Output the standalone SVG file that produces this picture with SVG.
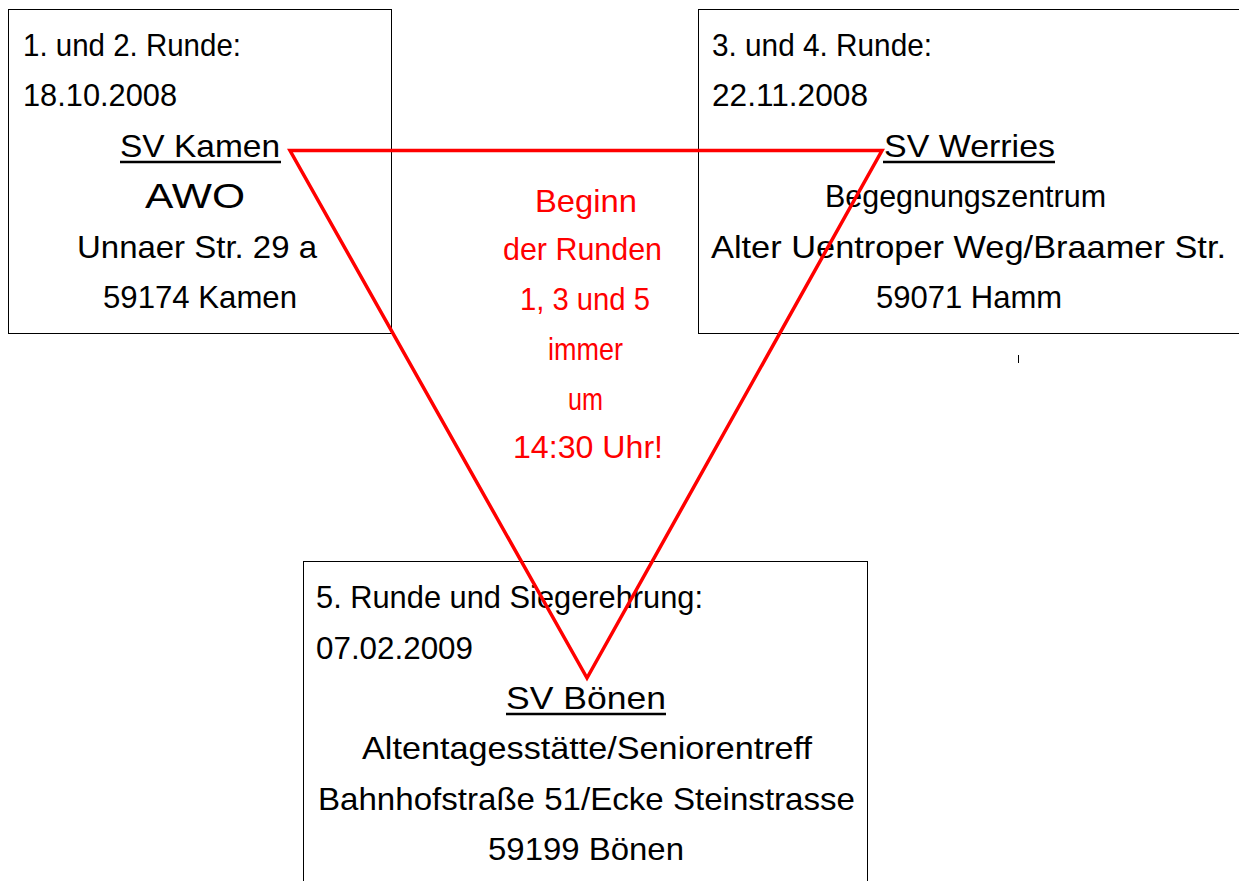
<svg xmlns="http://www.w3.org/2000/svg" width="1239" height="881" viewBox="0 0 1239 881">
  <style>
    .box { fill: #ffffff; stroke: #000000; stroke-width: 1; }
    .t { font-family: "Liberation Sans", Arial, sans-serif; font-size: 32px; fill: #000000; }
    .big { font-size: 35px; }
    .red { font-family: "Liberation Sans", Arial, sans-serif; font-size: 32px; fill: #ff0000; text-anchor: middle; }
    .ul { stroke: #000000; stroke-width: 2.5; }
    .tri { fill: none; stroke: #ff0000; stroke-width: 3.5; stroke-linejoin: miter; }
  </style>
  <rect x="0" y="0" width="1239" height="881" fill="#ffffff"/>

  <g id="node-kamen">
    <rect class="box" x="8.5" y="9.5" width="383" height="324"/>
    <text class="t" x="23" y="56" textLength="218" lengthAdjust="spacingAndGlyphs">1. und 2. Runde:</text>
    <text class="t" x="23" y="106" textLength="154" lengthAdjust="spacingAndGlyphs">18.10.2008</text>
    <text class="t" x="120" y="157" textLength="160" lengthAdjust="spacingAndGlyphs">SV Kamen</text>
    <line class="ul" x1="120" y1="162" x2="281" y2="162"/>
    <text class="t big" x="145" y="208" textLength="100" lengthAdjust="spacingAndGlyphs">AWO</text>
    <text class="t" x="77" y="258" textLength="240" lengthAdjust="spacingAndGlyphs">Unnaer Str. 29 a</text>
    <text class="t" x="103" y="308" textLength="194" lengthAdjust="spacingAndGlyphs">59174 Kamen</text>
  </g>

  <g id="node-werries">
    <rect class="box" x="698.5" y="9.5" width="600" height="324"/>
    <text class="t" x="712" y="56" textLength="220" lengthAdjust="spacingAndGlyphs">3. und 4. Runde:</text>
    <text class="t" x="712" y="106" textLength="156" lengthAdjust="spacingAndGlyphs">22.11.2008</text>
    <text class="t" x="884" y="157" textLength="171" lengthAdjust="spacingAndGlyphs">SV Werries</text>
    <line class="ul" x1="883" y1="162" x2="1055" y2="162"/>
    <text class="t" x="825" y="207" textLength="281" lengthAdjust="spacingAndGlyphs">Begegnungszentrum</text>
    <text class="t" x="711" y="258" textLength="515" lengthAdjust="spacingAndGlyphs">Alter Uentroper Weg/Braamer Str.</text>
    <text class="t" x="876" y="308" textLength="186" lengthAdjust="spacingAndGlyphs">59071 Hamm</text>
  </g>

  <line x1="1018.5" y1="355" x2="1018.5" y2="363" stroke="#000000" stroke-width="1"/>

  <g id="node-boenen">
    <rect class="box" x="303.5" y="561.5" width="564" height="400"/>
    <text class="t" x="316" y="608" textLength="387" lengthAdjust="spacingAndGlyphs">5. Runde und Siegerehrung:</text>
    <text class="t" x="316" y="659" textLength="157" lengthAdjust="spacingAndGlyphs">07.02.2009</text>
    <text class="t" x="506" y="709" textLength="160" lengthAdjust="spacingAndGlyphs">SV Bönen</text>
    <line class="ul" x1="506" y1="714" x2="666" y2="714"/>
    <text class="t" x="362" y="759" textLength="450" lengthAdjust="spacingAndGlyphs">Altentagesstätte/Seniorentreff</text>
    <text class="t" x="318" y="810" textLength="537" lengthAdjust="spacingAndGlyphs">Bahnhofstraße 51/Ecke Steinstrasse</text>
    <text class="t" x="488" y="860" textLength="196" lengthAdjust="spacingAndGlyphs">59199 Bönen</text>
  </g>

  <g id="connectors">
    <polygon class="tri" points="290,150.5 882,150.5 587,678"/>
  </g>

  <g id="note">
    <text class="red" x="586" y="212" textLength="102" lengthAdjust="spacingAndGlyphs">Beginn</text>
    <text class="red" x="582.5" y="260" textLength="159" lengthAdjust="spacingAndGlyphs">der Runden</text>
    <text class="red" x="585" y="310" textLength="130" lengthAdjust="spacingAndGlyphs">1, 3 und 5</text>
    <text class="red" x="585.5" y="360" textLength="75" lengthAdjust="spacingAndGlyphs">immer</text>
    <text class="red" x="585.5" y="410" textLength="35" lengthAdjust="spacingAndGlyphs">um</text>
    <text class="red" x="588" y="458" textLength="150" lengthAdjust="spacingAndGlyphs">14:30 Uhr!</text>
  </g>
</svg>
